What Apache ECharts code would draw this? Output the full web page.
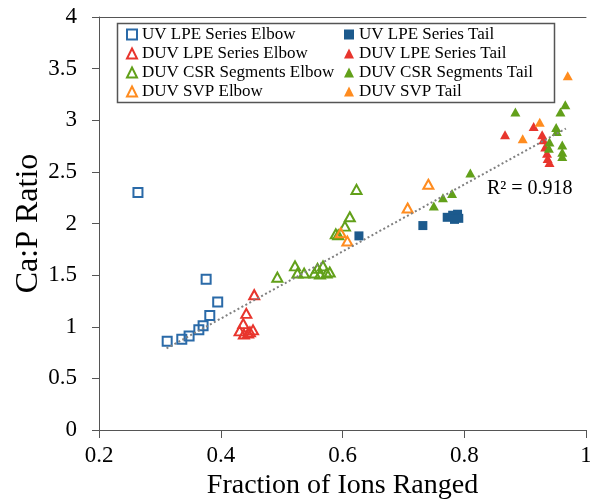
<!DOCTYPE html>
<html>
<head>
<meta charset="utf-8">
<script src="https://cdn.jsdelivr.net/npm/echarts@6/dist/echarts.min.js"></script>
<style>
  html, body { margin: 0; padding: 0; background: #fff; }
  #chart { width: 590px; height: 504px; }
</style>
</head>
<body>
<div id="chart"></div>
<script>
// [fraction of ions ranged, Ca:P ratio]
const uvLpeElbow = [[0.264,2.30],[0.376,1.46],[0.395,1.24],[0.382,1.11],[0.371,1.01],[0.364,0.97],[0.348,0.91],[0.336,0.88],[0.312,0.86]];
const uvLpeTail = [[0.627,1.88],[0.732,1.98],[0.772,2.06],[0.781,2.08],[0.789,2.09],[0.791,2.05],[0.784,2.04]];
const duvLpeElbow = [[0.455,1.31],[0.442,1.13],[0.437,1.03],[0.431,0.96],[0.453,0.97],[0.438,0.93],[0.445,0.94],[0.448,0.95]];
const duvLpeTail = [[0.867,2.86],[0.914,2.94],[0.928,2.86],[0.930,2.81],[0.933,2.74],[0.936,2.68],[0.937,2.63],[0.940,2.59]];
const duvCsrElbow = [[0.623,2.33],[0.612,2.065],[0.604,1.975],[0.593,1.89],[0.589,1.90],[0.493,1.48],[0.522,1.59],[0.526,1.52],[0.537,1.52],[0.554,1.52],[0.559,1.565],[0.568,1.59],[0.563,1.51],[0.574,1.52],[0.579,1.53]];
const duvCsrTail = [[0.750,2.17],[0.765,2.25],[0.780,2.29],[0.810,2.49],[0.884,3.08],[0.966,3.15],[0.958,3.08],[0.951,2.93],[0.952,2.89],[0.940,2.79],[0.939,2.73],[0.961,2.76],[0.961,2.69],[0.961,2.65]];
const duvSvpElbow = [[0.597,1.91],[0.608,1.83],[0.707,2.15],[0.741,2.38]];
const duvSvpTail = [[0.970,3.43],[0.924,2.98],[0.896,2.82]];
// linear fit endpoints
const trendLine = [[0.311,0.79],[0.967,2.92]];
const rSquaredText = 'R² = 0.918';

const xTickLabels = ['0.2','0.4','0.6','0.8','1'];
const yTickLabels = ['0','0.5','1','1.5','2','2.5','3','3.5','4'];

const FONT = '"Liberation Serif", "Times New Roman", serif';
const BLUE_OPEN = '#2a6aa8';
const BLUE = '#1c5a8d';
const RED = '#e8352d';
const GREEN = '#62a01a';
const ORANGE = '#ff8c1f';

function openSeries(name, data, color, symbol, size) {
  return {
    name, type: 'scatter', data, symbol, symbolSize: size,
    itemStyle: { color: 'rgba(255,255,255,0)', borderColor: color, borderWidth: 2, opacity: 1 },
    emphasis: { disabled: true }
  };
}
function filledSeries(name, data, color, symbol, size) {
  return {
    name, type: 'scatter', data, symbol, symbolSize: size,
    itemStyle: { color, opacity: 1 },
    emphasis: { disabled: true }
  };
}

const legendText = { fontFamily: FONT, fontSize: 17, color: '#000' };
const chart = echarts.init(document.getElementById('chart'), null, { renderer: 'canvas' });

chart.setOption({
  animation: false,
  backgroundColor: '#fff',
  grid: { left: 99, right: 4, top: 17, bottom: 74, containLabel: false, outerBoundsMode: 'none' },
  xAxis: [{
    type: 'value', min: 0.2, max: 1, interval: 0.2,
    name: 'Fraction of Ions Ranged', nameLocation: 'middle', nameGap: 41,
    nameTextStyle: { fontFamily: FONT, fontSize: 28, color: '#000' },
    axisLine: { show: true, lineStyle: { color: '#555', width: 1 } },
    axisTick: { show: true, inside: false, length: 8, lineStyle: { color: '#555' } },
    axisLabel: { fontFamily: FONT, fontSize: 23, color: '#000', margin: 14,
      hideOverlap: false, showMaxLabel: true, formatter: (v, i) => xTickLabels[i] },
    splitLine: { show: false }
  }, {
    type: 'value', position: 'top', min: 0.2, max: 1,
    axisLine: { show: true, lineStyle: { color: '#555', width: 1 } },
    axisTick: { show: false }, axisLabel: { show: false }, splitLine: { show: false }
  }],
  yAxis: {
    type: 'value', min: 0, max: 4, interval: 0.5,
    name: 'Ca:P Ratio', nameLocation: 'middle', nameGap: 54, nameRotate: 90,
    nameMoveOverlap: false,
    nameTextStyle: { fontFamily: FONT, fontSize: 32, color: '#000' },
    axisLine: { show: true, lineStyle: { color: '#555', width: 1 } },
    axisTick: { show: true, inside: false, length: 7, lineStyle: { color: '#555' } },
    axisLabel: { fontFamily: FONT, fontSize: 23, color: '#000', margin: 22,
      formatter: (v, i) => yTickLabels[i] },
    splitLine: { show: false }
  },
  legend: [{
    left: 126, top: 26, orient: 'vertical', padding: 0, itemGap: 2,
    itemWidth: 10, itemHeight: 10, textStyle: legendText,
    data: ['UV LPE Series Elbow', 'DUV LPE Series Elbow', 'DUV CSR Segments Elbow', 'DUV SVP Elbow']
  }, {
    left: 344, top: 26, orient: 'vertical', padding: 0, itemGap: 2,
    itemWidth: 10, itemHeight: 10, textStyle: legendText,
    data: ['UV LPE Series Tail', 'DUV LPE Series Tail', 'DUV CSR Segments Tail', 'DUV SVP Tail']
  }],
  graphic: [{
    type: 'rect', shape: { x: 117.5, y: 23.5, width: 437, height: 79 },
    style: { fill: 'none', stroke: '#555', lineWidth: 1.5 }, z: 10
  }, {
    type: 'text', left: 487, top: 179,
    style: { text: rSquaredText, font: '20px ' + FONT, fill: '#000' }
  }],
  series: [
    openSeries('UV LPE Series Elbow', uvLpeElbow, BLUE_OPEN, 'rect', 9),
    filledSeries('UV LPE Series Tail', uvLpeTail, BLUE, 'rect', 9),
    openSeries('DUV LPE Series Elbow', duvLpeElbow, RED, 'triangle', [10, 9]),
    filledSeries('DUV LPE Series Tail', duvLpeTail, RED, 'triangle', [10, 9]),
    openSeries('DUV CSR Segments Elbow', duvCsrElbow, GREEN, 'triangle', [10, 9]),
    filledSeries('DUV CSR Segments Tail', duvCsrTail, GREEN, 'triangle', [10, 9]),
    openSeries('DUV SVP Elbow', duvSvpElbow, ORANGE, 'triangle', [10, 9]),
    filledSeries('DUV SVP Tail', duvSvpTail, ORANGE, 'triangle', [10, 9]),
    {
      name: 'trend', type: 'line', data: trendLine, symbol: 'none', z: 5,
      lineStyle: { color: '#808080', width: 2, type: [2, 2.5] },
      emphasis: { disabled: true }, silent: true
    }
  ]
});
</script>
</body>
</html>
